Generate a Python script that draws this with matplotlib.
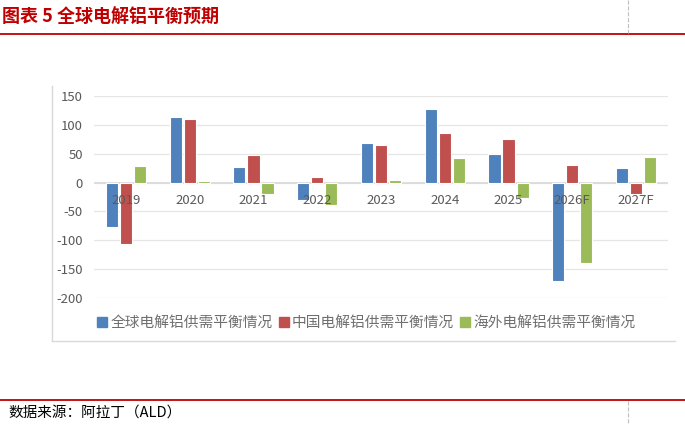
import matplotlib.pyplot as plt
from matplotlib.lines import Line2D
import numpy as np

plt.rcParams['font.family'] = ['Noto Sans CJK SC', 'DejaVu Sans']

years = ["2019", "2020", "2021", "2022", "2023", "2024", "2025", "2026F", "2027F"]
global_bal = [-77, 113, 27, -30, 69, 127, 50, -170, 25]
china_bal = [-106, 111, 47, 9, 65, 86, 75, 30, -20]
overseas_bal = [29, 3, -20, -38, 5, 43, -26, -140, 44]
series_names = ["全球电解铝供需平衡情况", "中国电解铝供需平衡情况", "海外电解铝供需平衡情况"]
colors = ["#4F81BD", "#C0504D", "#9BBB59"]
yticks = [150, 100, 50, 0, -50, -100, -150, -200]

W, H = 685, 425
fig = plt.figure(figsize=(W / 100, H / 100), dpi=100)

def fx(px):
    return px / W

def fy(py):
    return 1 - py / H

ax = fig.add_axes([fx(94), fy(298), fx(668) - fx(94), fy(96) - fy(298)])
x = np.arange(len(years))
w = 0.19
step = 0.22
for k, (vals, col, name) in enumerate(zip([global_bal, china_bal, overseas_bal], colors, series_names)):
    ax.bar(x + (k - 1) * step, vals, width=w, color=col, edgecolor='white', linewidth=0.8, label=name, zorder=3)

ax.set_xlim(-0.5, len(years) - 0.5)
ax.set_ylim(-200, 150)
ax.set_yticks(yticks)
ax.set_yticklabels([str(v) for v in yticks], color='#595959', fontsize=9.5)
ax.tick_params(axis='y', length=0, pad=8)
ax.set_xticks([])
ax.grid(axis='y', color='#E6E6E6', linewidth=0.9, zorder=0)
ax.axhline(0, color='#D9D9D9', linewidth=1.2, zorder=2)
for s in ax.spines.values():
    s.set_visible(False)

for i, lab in enumerate(years):
    ax.annotate(lab, xy=(i, 0), xytext=(0, -11), textcoords='offset pixels',
                ha='center', va='top', fontsize=9.5, color='#595959', zorder=5)

handles = [Line2D([], [], marker='s', linestyle='none', markersize=7, color=c) for c in colors]
fig.legend(handles, series_names, loc='center', bbox_to_anchor=(fx(366), fy(323)), ncol=3,
           frameon=False, fontsize=10.6, labelcolor='#6F6F6F', handletextpad=0.15,
           columnspacing=0.35, handlelength=0.8)

# chart frame
fig.add_artist(Line2D([fx(52), fx(52)], [fy(86), fy(341)], color='#D9D9D9', linewidth=1))
fig.add_artist(Line2D([fx(52), fx(675)], [fy(341), fy(341)], color='#D9D9D9', linewidth=1))

# header / footer
fig.text(fx(2), fy(17), "图表 5 全球电解铝平衡预期", color='#C00000', fontsize=13,
         fontweight='bold', ha='left', va='center')
fig.add_artist(Line2D([0, 1], [fy(34), fy(34)], color='#C00000', linewidth=1.3))
fig.add_artist(Line2D([fx(628), fx(628)], [1, fy(33)], color='#BFBFBF', linewidth=0.8, linestyle='--'))
fig.add_artist(Line2D([0, 1], [fy(400), fy(400)], color='#C00000', linewidth=1.3))
fig.add_artist(Line2D([fx(628), fx(628)], [fy(401), 0], color='#BFBFBF', linewidth=0.8, linestyle='--'))
fig.text(fx(8), fy(413), "数据来源：阿拉丁（ALD）", color='black', fontsize=10.5,
         style='italic', ha='left', va='center')

fig.savefig("out.png", dpi=100)
